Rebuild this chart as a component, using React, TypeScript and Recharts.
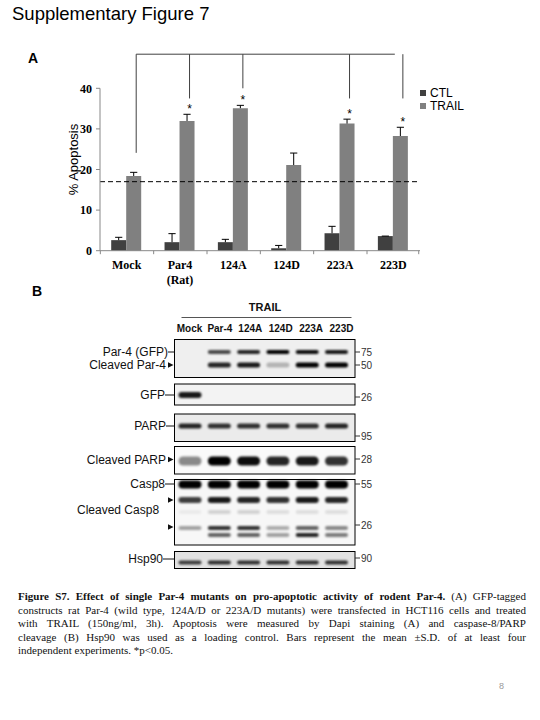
import React from "react";
import { BarChart, Bar, XAxis, YAxis, ReferenceLine, LabelList } from "recharts";

// ---------- Panel A data ----------
const categories = ["Mock", "Par4\n(Rat)", "124A", "124D", "223A", "223D"];
const ctlValues = [2.6, 2.1, 2.1, 0.6, 4.3, 3.6];
const ctlErrors = [0.7, 2.1, 0.7, 0.7, 1.7, 0.0];
const trailValues = [18.4, 31.95, 35.1, 21.1, 31.3, 28.25];
const trailErrors = [0.9, 1.65, 0.7, 2.95, 1.1, 2.15];
const significant = [false, true, true, false, true, true];
const seriesNames = ["CTL", "TRAIL"];
const yTicks = [0, 10, 20, 30, 40];
const thresholdValue = 17;
const bracketTargets = [0, 1, 2, 4, 5];
const bracketDrops = [24.1, 37.5, 40, 37.5, 37.5];
const bracketTop = 48.4;

// ---------- Panel B data (blot band intensities per lane) ----------
const laneLabels = ["Mock", "Par-4", "124A", "124D", "223A", "223D"];
const par4FullBand = [0, 0.7, 0.85, 1, 0.95, 0.9];
const par4CleavedBand = [0, 0.85, 0.9, 0.25, 1, 1];
const gfpBand = [0.9, 0, 0, 0, 0, 0];
const parpBand = [0.85, 0.8, 0.8, 0.8, 0.8, 0.85];
const cleavedParpBand = [0.45, 1, 0.95, 0.85, 0.9, 0.8];
const casp8Band = [1, 1, 1, 1, 1, 1];
const cleavedCasp8Band = [0.75, 0.9, 0.85, 0.8, 0.9, 0.85];
const casp8FaintBand = [0.05, 0.15, 0.15, 0.1, 0.1, 0.1];
const casp8LowUpper = [0.35, 0.8, 0.8, 0.3, 0.6, 0.45];
const casp8LowLower = [0, 0.6, 0.6, 0.35, 0.85, 0.5];
const hsp90Band = [0.75, 0.8, 0.8, 0.8, 0.8, 0.8];

const captionLines = [
  "constructs rat Par-4 (wild type, 124A/D or 223A/D mutants) were transfected in HCT116 cells and treated",
  "with TRAIL (150ng/ml, 3h). Apoptosis were measured by Dapi staining (A) and caspase-8/PARP",
  "cleavage (B) Hsp90 was used as a loading control. Bars represent the mean \u00b1S.D. of at least four",
  "independent experiments. *p<0.05.",
];

const data = categories.map((c, i) => ({
  cat: c,
  ctl: ctlValues[i],
  trail: trailValues[i],
}));

const SERIF = "'Liberation Serif', 'Times New Roman', serif";
const SANS = "'Liberation Sans', Arial, sans-serif";
const GAP_FRACTION = 0.21;

const geom = (props: any) => {
  const vb = props.viewBox || props;
  const value = Number(props.value);
  const x = Number(vb.x);
  const y = Number(vb.y);
  const w = Number(vb.width);
  const h = Number(vb.height);
  const ratio = h / value;
  const base = y + h;
  const band = (2 * w) / (1 - 2 * GAP_FRACTION);
  return { x, y, w, h, ratio, base, band, cx: x + w / 2 };
};

const ctlContent = (props: any) => {
  const value = Number(props.value);
  const idx = props.index;
  if (!value) return null;
  const g = geom(props);
  const top = g.y - ctlErrors[idx] * g.ratio;
  const leftEdge = g.x - GAP_FRACTION * g.band;
  return (
    <g>
      <line x1={g.cx} x2={g.cx} y1={g.y} y2={top} stroke="#000" strokeWidth={1} />
      <line x1={g.cx - 3.6} x2={g.cx + 3.6} y1={top} y2={top} stroke="#000" strokeWidth={1} />
      <line x1={leftEdge} x2={leftEdge} y1={g.base} y2={g.base + 3.5} stroke="#888" strokeWidth={1} />
      {idx === categories.length - 1 ? (
        <line x1={leftEdge + g.band} x2={leftEdge + g.band} y1={g.base} y2={g.base + 3.5} stroke="#888" strokeWidth={1} />
      ) : null}
    </g>
  );
};

const trailContent = (props: any) => {
  const value = Number(props.value);
  const idx = props.index;
  if (!value) return null;
  const g = geom(props);
  const top = g.y - trailErrors[idx] * g.ratio;
  const yOf = (v: number) => g.base - v * g.ratio;
  const bIdx = bracketTargets.indexOf(idx);
  const bx = g.cx + 2.5;
  return (
    <g>
      <line x1={g.cx} x2={g.cx} y1={g.y} y2={top} stroke="#000" strokeWidth={1} />
      <line x1={g.cx - 3.6} x2={g.cx + 3.6} y1={top} y2={top} stroke="#000" strokeWidth={1} />
      {significant[idx] ? (
        <text x={g.cx + 2.5} y={top - 1.5} textAnchor="middle" fontFamily={SANS} fontSize={12} fill="#000">
          *
        </text>
      ) : null}
      {bIdx >= 0 ? (
        <line x1={bx} x2={bx} y1={yOf(bracketDrops[bIdx])} y2={yOf(bracketTop)} stroke="#404040" strokeWidth={1} />
      ) : null}
      {bIdx === 0 ? (
        <line
          x1={bx}
          x2={bx + (bracketTargets[bracketTargets.length - 1] - idx) * g.band}
          y1={yOf(bracketTop)}
          y2={yOf(bracketTop)}
          stroke="#404040"
          strokeWidth={1}
        />
      ) : null}
    </g>
  );
};

const CategoryTick = (props: any) => {
  const { x, y, payload } = props;
  const lines = String(payload.value).split("\n");
  return (
    <g>
      {lines.map((l: string, i: number) => (
        <text
          key={i}
          x={x}
          y={y + 18.5 + i * 15}
          textAnchor="middle"
          fontFamily={SERIF}
          fontWeight="bold"
          fontSize={12}
          fill="#000"
        >
          {l}
        </text>
      ))}
    </g>
  );
};

const YLabel = (props: any) => {
  const vb = props.viewBox || {};
  const cx = 73;
  const cy = vb.y + vb.height / 2 - 10;
  return (
    <text
      x={cx}
      y={cy}
      transform={`rotate(-90 ${cx} ${cy})`}
      textAnchor="middle"
      dominantBaseline="central"
      fontFamily={SANS}
      fontSize={13}
      fill="#000"
    >
      % Apoptosis
    </text>
  );
};

const laneX = (i: number) => 190 + i * 29.3;

const bandRows = [
  { y: 352, h: 4, vals: par4FullBand },
  { y: 365, h: 5, vals: par4CleavedBand },
  { y: 395, h: 6, vals: gfpBand },
  { y: 426, h: 5, vals: parpBand },
  { y: 461, h: 9, vals: cleavedParpBand },
  { y: 484.5, h: 8, vals: casp8Band },
  { y: 500, h: 6, vals: cleavedCasp8Band },
  { y: 512, h: 4, vals: casp8FaintBand },
  { y: 528, h: 4, vals: casp8LowUpper },
  { y: 535, h: 4, vals: casp8LowLower },
  { y: 562.5, h: 4, vals: hsp90Band },
];

const panels = [
  { y0: 339.5, y1: 377.5, bg: "#efefef" },
  { y0: 384, y1: 405, bg: "#f3f3f3" },
  { y0: 414, y1: 441.5, bg: "#ebebeb" },
  { y0: 446.5, y1: 474, bg: "#fafafa" },
  { y0: 479.5, y1: 545, bg: "#f7f7f7" },
  { y0: 551.5, y1: 568.5, bg: "#e2e2e2" },
];

const leftLabels = [
  { text: "Par-4 (GFP)", x: 168, y: 352, mark: "dash", anchor: "end" },
  { text: "Cleaved Par-4", x: 166, y: 365, mark: "arrow", anchor: "end" },
  { text: "GFP", x: 165, y: 395, mark: "dash", anchor: "end" },
  { text: "PARP", x: 166, y: 426, mark: "dash", anchor: "end" },
  { text: "Cleaved PARP", x: 166, y: 459.5, mark: "arrow", anchor: "end" },
  { text: "Casp8", x: 165, y: 484, mark: "dash", anchor: "end" },
  { text: "", x: 166, y: 500, mark: "arrow", anchor: "end" },
  { text: "Cleaved Casp8", x: 77, y: 510, mark: "none", anchor: "start" },
  { text: "", x: 166, y: 527, mark: "arrow", anchor: "end" },
  { text: "Hsp90", x: 163, y: 559, mark: "dash", anchor: "end" },
];

const mwLabels = [
  { t: "75", y: 352 },
  { t: "50", y: 365 },
  { t: "26", y: 397 },
  { t: "95", y: 436 },
  { t: "28", y: 459 },
  { t: "55", y: 484 },
  { t: "26", y: 525 },
  { t: "90", y: 558 },
];

const Blot = () => (
  <svg width={540} height={720} style={{ position: "absolute", left: 0, top: 0 }}>
    <defs>
      <filter id="bandBlur" x="-20%" y="-80%" width="140%" height="260%">
        <feGaussianBlur stdDeviation="0.9" />
      </filter>
    </defs>
    <text x={265} y={311} textAnchor="middle" fontFamily={SANS} fontWeight="bold" fontSize={11} fill="#111">
      TRAIL
    </text>
    <line x1={181.5} x2={351.5} y1={317.5} y2={317.5} stroke="#555" strokeWidth={1} />
    {laneLabels.map((l, i) => (
      <text
        key={l}
        x={189.5 + i * 30.4}
        y={331.5}
        textAnchor="middle"
        fontFamily={SANS}
        fontWeight="bold"
        fontSize={10}
        fill="#111"
      >
        {l}
      </text>
    ))}
    {panels.map((p, i) => (
      <rect key={i} x={174.5} y={p.y0} width={180.5} height={p.y1 - p.y0} fill={p.bg} stroke="#000" strokeWidth={1} />
    ))}
    <g filter="url(#bandBlur)">
      {bandRows.map((r, ri) =>
        r.vals.map((a, li) =>
          a > 0 ? (
            <rect
              key={`${ri}-${li}`}
              x={laneX(li) - 11.5}
              y={r.y - r.h / 2}
              width={23}
              height={r.h}
              rx={r.h / 2}
              fill="#000"
              fillOpacity={Math.min(1, a)}
            />
          ) : null
        )
      )}
    </g>
    {leftLabels.map((l, i) => (
      <g key={i}>
        {l.text ? (
          <text x={l.x} y={l.y + 4} textAnchor={l.anchor as any} fontFamily={SANS} fontSize={12} fill="#111">
            {l.text}
          </text>
        ) : null}
        {l.mark === "dash" ? <line x1={l.x} x2={174.5} y1={l.y} y2={l.y} stroke="#111" strokeWidth={1} /> : null}
        {l.mark === "arrow" ? (
          <polygon points={`168,${l.y - 2.8} 168,${l.y + 2.8} 173.5,${l.y}`} fill="#111" />
        ) : null}
      </g>
    ))}
    {mwLabels.map((m, i) => (
      <g key={i}>
        <line x1={355} x2={360} y1={m.y} y2={m.y} stroke="#333" strokeWidth={1} />
        <text x={361} y={m.y + 3.5} fontFamily={SANS} fontSize={10} fill="#333">
          {m.t}
        </text>
      </g>
    ))}
  </svg>
);

const lineStyle: React.CSSProperties = {
  height: 13.5,
  lineHeight: "13.5px",
  whiteSpace: "nowrap",
  textAlign: "justify",
  textAlignLast: "justify" as any,
};

export default function App() {
  return (
    <div
      style={{
        position: "absolute",
        left: 0,
        top: 0,
        width: 540,
        height: 720,
        background: "#fff",
        overflow: "hidden",
      }}
    >
      <Blot />
      <div
        style={{
          position: "absolute",
          left: 12,
          top: 3,
          fontFamily: SANS,
          fontSize: 18.5,
          lineHeight: "22px",
          color: "#000",
          whiteSpace: "nowrap",
        }}
      >
        Supplementary Figure 7
      </div>
      <div style={{ position: "absolute", left: 28, top: 50, fontFamily: SANS, fontWeight: "bold", fontSize: 14 }}>A</div>
      <div style={{ position: "absolute", left: 32, top: 283, fontFamily: SANS, fontWeight: "bold", fontSize: 14 }}>B</div>

      <div style={{ position: "absolute", left: 0, top: 40 }}>
        <BarChart
          width={540}
          height={260}
          data={data}
          margin={{ top: 48.3, right: 120, bottom: 9.3, left: 70 }}
          barCategoryGap={`${GAP_FRACTION * 100}%`}
          barGap={0}
        >
          <XAxis
            dataKey="cat"
            interval={0}
            height={40}
            tickLine={false}
            tickSize={0}
            tickMargin={0}
            axisLine={{ stroke: "#888" }}
            tick={<CategoryTick />}
          />
          <YAxis
            domain={[0, 40]}
            ticks={yTicks}
            width={30}
            tickSize={4}
            tickMargin={4}
            axisLine={{ stroke: "#888" }}
            tickLine={{ stroke: "#888" }}
            tick={{ fontFamily: SERIF, fontWeight: "bold", fontSize: 12, fill: "#000" }}
            label={<YLabel />}
          />
          <ReferenceLine y={thresholdValue} stroke="#000" strokeDasharray="5 3" strokeWidth={1} />
          <Bar dataKey="ctl" name={seriesNames[0]} fill="#404040" isAnimationActive={false}>
            <LabelList dataKey="ctl" content={ctlContent} />
          </Bar>
          <Bar dataKey="trail" name={seriesNames[1]} fill="#808080" isAnimationActive={false}>
            <LabelList dataKey="trail" content={trailContent} />
          </Bar>
        </BarChart>
      </div>

      <div style={{ position: "absolute", left: 420, top: 87, fontFamily: SANS, fontSize: 12, lineHeight: "12px", color: "#000" }}>
        {seriesNames.map((n, i) => (
          <div key={n} style={{ display: "flex", alignItems: "center", height: 12.5 }}>
            <span
              style={{
                display: "inline-block",
                width: 6,
                height: 6,
                background: i === 0 ? "#404040" : "#808080",
                marginRight: 4,
              }}
            />
            {n}
          </div>
        ))}
      </div>

      <div
        style={{
          position: "absolute",
          left: 18,
          top: 590,
          width: 508,
          fontFamily: SERIF,
          fontSize: 11,
          color: "#111",
        }}
      >
        <div style={lineStyle}>
          <b>Figure S7. Effect of single Par-4 mutants on pro-apoptotic activity of rodent Par-4.</b> (A) GFP-tagged
        </div>
        {captionLines.map((t, i) => (
          <div
            key={i}
            style={i === captionLines.length - 1 ? { ...lineStyle, textAlign: "left", textAlignLast: "left" as any } : lineStyle}
          >
            {t}
          </div>
        ))}
      </div>

      <div style={{ position: "absolute", left: 499, top: 681, fontFamily: SANS, fontSize: 9, color: "#999" }}>8</div>
    </div>
  );
}
